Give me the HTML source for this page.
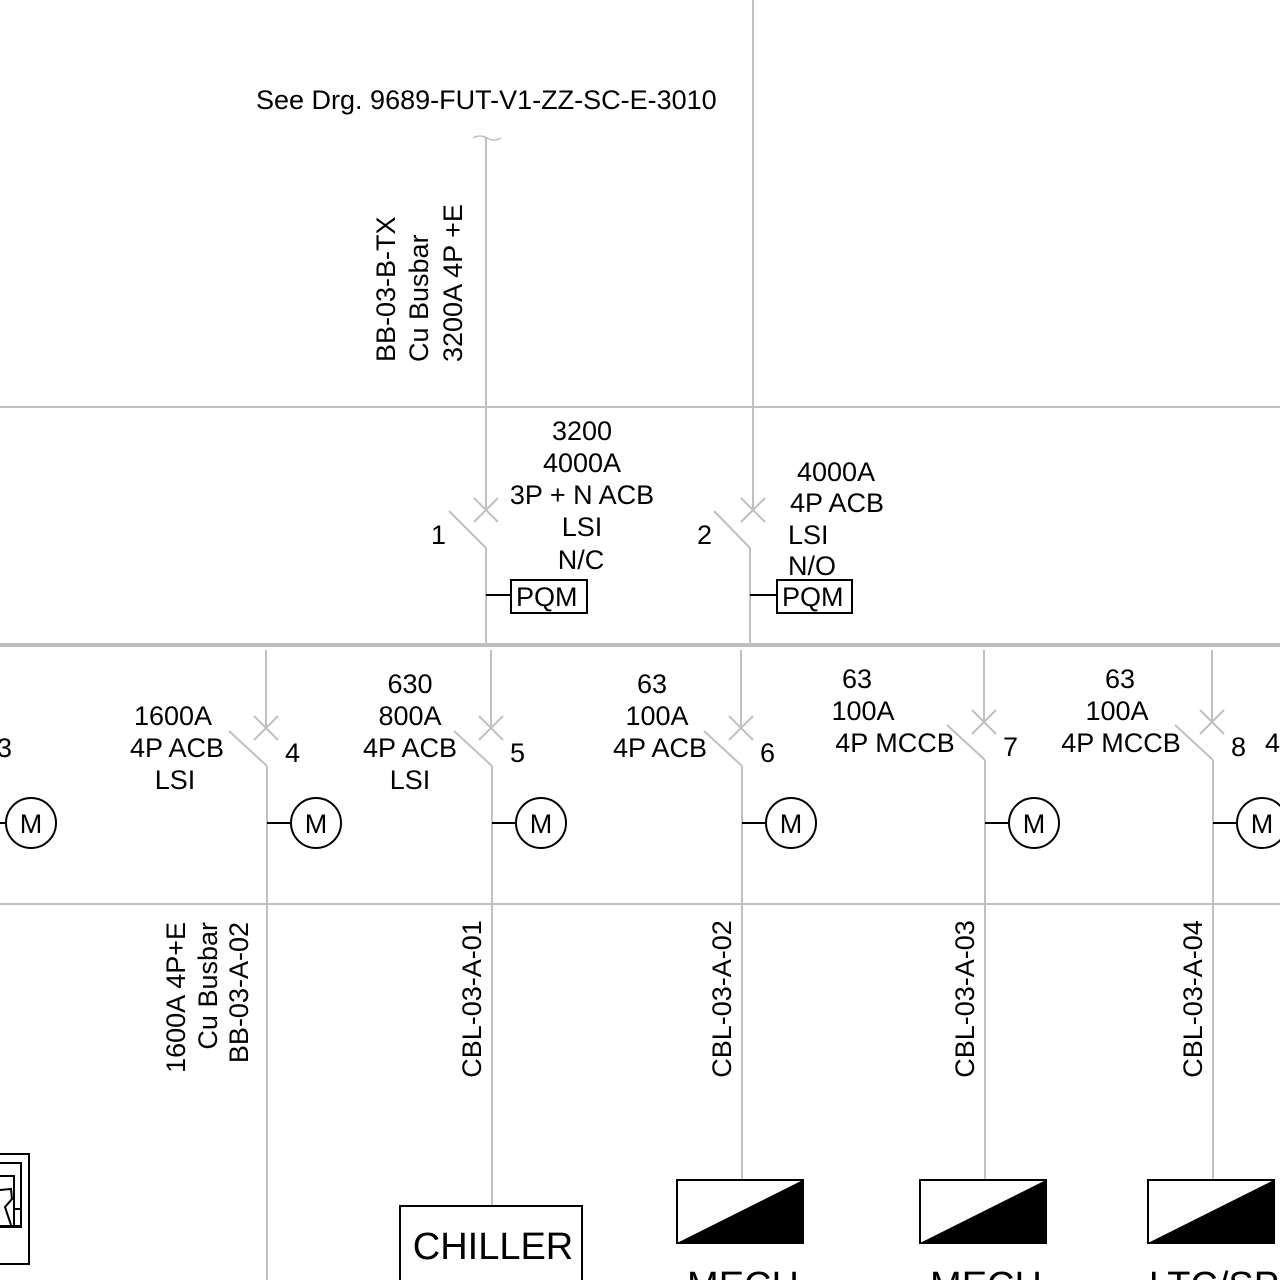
<!DOCTYPE html>
<html><head><meta charset="utf-8"><style>
html,body{margin:0;padding:0;background:#fff;}
svg{display:block;}
text{font-family:"Liberation Sans",sans-serif;font-size:27px;fill:#000;}
</style></head><body>
<svg id="sld" width="1280" height="1280" viewBox="0 0 1280 1280" xmlns="http://www.w3.org/2000/svg">
<g stroke="#c0c0c0" stroke-width="2" fill="none">
  <line x1="0" y1="407" x2="1280" y2="407"/>
  <line x1="0" y1="904" x2="1280" y2="904"/>
  <line x1="753" y1="0" x2="753" y2="407"/>
</g>
<line x1="0" y1="645" x2="1280" y2="645" stroke="#bdbdbd" stroke-width="4"/>
<text x="256" y="109">See Drg. 9689-FUT-V1-ZZ-SC-E-3010</text>
<path d="M473 138 Q480 134 487 138 T501 138" stroke="#c0c0c0" stroke-width="1.5" fill="none"/>
<g>
  <text transform="translate(395,362) rotate(-90)">BB-03-B-TX</text>
  <text transform="translate(428,362) rotate(-90)">Cu Busbar</text>
  <text transform="translate(462,362) rotate(-90)">3200A 4P +E</text>
</g>
<g stroke="#c0c0c0" stroke-width="2" fill="none">
  <line x1="486" y1="138" x2="486" y2="510"/>
  <line x1="474" y1="498" x2="498" y2="522"/><line x1="474" y1="522" x2="498" y2="498"/>
  <line x1="449" y1="511" x2="486" y2="548"/>
  <line x1="486" y1="548" x2="486" y2="645"/>
</g>
<g text-anchor="middle">
  <text x="582" y="440">3200</text><text x="582" y="472">4000A</text>
  <text x="582" y="504">3P + N ACB</text><text x="582" y="536">LSI</text><text x="581" y="569">N/C</text>
</g>
<text x="431" y="544">1</text>
<line x1="486" y1="595" x2="511" y2="595" stroke="#000" stroke-width="2"/>
<rect x="511" y="580" width="76" height="33" fill="none" stroke="#000" stroke-width="2"/>
<text x="516" y="606">PQM</text>
<g stroke="#c0c0c0" stroke-width="2" fill="none">
  <line x1="753" y1="407" x2="753" y2="510"/>
  <line x1="741" y1="498" x2="765" y2="522"/><line x1="741" y1="522" x2="765" y2="498"/>
  <line x1="714" y1="511" x2="750" y2="548"/>
  <line x1="750" y1="548" x2="750" y2="645"/>
</g>
<g>
  <text x="797" y="481">4000A</text><text x="790" y="512">4P ACB</text>
  <text x="788" y="544">LSI</text><text x="788" y="575">N/O</text>
</g>
<text x="697" y="544">2</text>
<line x1="750" y1="595" x2="777" y2="595" stroke="#000" stroke-width="2"/>
<rect x="777" y="580" width="75" height="33" fill="none" stroke="#000" stroke-width="2"/>
<text x="782" y="606">PQM</text>
<text x="-3" y="757">3</text>
<line x1="0" y1="823" x2="6" y2="823" stroke="#000" stroke-width="2"/>
<circle cx="31" cy="823" r="25" fill="none" stroke="#000" stroke-width="2"/>
<text x="31" y="833" text-anchor="middle">M</text>
<g fill="none" stroke="#000" stroke-width="2">
  <rect x="-2" y="1154" width="31" height="110"/>
  <rect x="-2" y="1163" width="23" height="64"/>
  <rect x="-2" y="1176" width="16" height="50"/>
  <rect x="14" y="1209" width="7" height="17"/>
  <path d="M0 1190 L11 1189 L12 1199 L5 1207 L11 1225"/>
</g>
<g text-anchor="end">
  <text transform="translate(185,922) rotate(-90)">1600A 4P+E</text>
  <text transform="translate(217,922) rotate(-90)">Cu Busbar</text>
  <text transform="translate(248,922) rotate(-90)">BB-03-A-02</text>
</g>
<g id="feeders"></g>
<script>
const feederIds = ["4","5","6","7","8"];
const feederX = [266, 491, 741, 984, 1212];
const feederRatings = [["1600A","4P ACB","LSI"],["630","800A","4P ACB","LSI"],["63","100A","4P ACB"],["63","100A","4P MCCB"],["63","100A","4P MCCB"]];
const feederCables = ["", "CBL-03-A-01", "CBL-03-A-02", "CBL-03-A-03", "CBL-03-A-04"];
const feederLoads = ["busbar", "CHILLER", "MECH", "MECH", "LTC/SP"];

const NS = "http://www.w3.org/2000/svg";
const g = document.getElementById("feeders");
function mk(tag, attrs, parent) {
  const e = document.createElementNS(NS, tag);
  for (const k in attrs) e.setAttribute(k, attrs[k]);
  (parent || g).appendChild(e);
  return e;
}
const labelLayout = [[173,177,175],[410,410,410,410],[652,657,660],[857,863,895],[1120,1117,1121]];
feederIds.forEach((id, i) => {
  const x = feederX[i];
  const mccb = feederRatings[i][2] && feederRatings[i][2].indexOf("MCCB") >= 0;
  const xy = mccb ? 722 : 728;
  const grp = mk("g", {stroke: "#c0c0c0", "stroke-width": 2, fill: "none"});
  
  
  mk("line", {x1: x, y1: 650, x2: x, y2: xy}, grp);
  mk("line", {x1: x - 12, y1: xy - 12, x2: x + 12, y2: xy + 12}, grp);
  mk("line", {x1: x - 12, y1: xy + 12, x2: x + 12, y2: xy - 12}, grp);
  mk("line", {x1: x - 37, y1: xy + 3, x2: x + 1, y2: xy + 38}, grp);
  const bottom = i === 0 ? 1280 : (feederLoads[i] === "CHILLER" ? 1206 : 1180);
  mk("line", {x1: x + 1, y1: xy + 38, x2: x + 1, y2: bottom}, grp);
  const num = mk("text", {x: x + 19, y: xy + 34});
  num.textContent = id;
  
  
  const rt = feederRatings[i];
  const startY = mccb ? 688 : (rt.length === 4 ? 693 : (i === 2 ? 693 : 725));
  rt.forEach((t, j) => {
    const tx = mk("text", {x: labelLayout[i][j] || labelLayout[i][0], y: startY + j * 32, "text-anchor": "middle"});
    tx.textContent = t;
    
    
  });
  mk("line", {x1: x + 1, y1: 823, x2: x + 25, y2: 823, stroke: "#000", "stroke-width": 2});
  const c = mk("circle", {cx: x + 50, cy: 823, r: 25, fill: "none", stroke: "#000", "stroke-width": 2});
  
  
  const m = mk("text", {x: x + 50, y: 833, "text-anchor": "middle"});
  m.textContent = "M";
  if (feederCables[i]) {
    const ct = mk("text", {transform: "translate(" + (x - 10) + ",999) rotate(-90)", "text-anchor": "middle"});
    ct.textContent = feederCables[i];
    
    
  }
  if (feederLoads[i] === "CHILLER") {
    const r = mk("rect", {x: x - 91, y: 1206, width: 182, height: 80, fill: "none", stroke: "#000", "stroke-width": 2});
    
    
    const t = mk("text", {x: x + 2, y: 1259, "text-anchor": "middle", style: "font-size:38px"});
    t.textContent = "CHILLER";
  } else if (i > 0) {
    const bx = x - 64;
    const r = mk("rect", {x: bx, y: 1180, width: 126, height: 63, fill: "#fff", stroke: "#000", "stroke-width": 2});
    
    
    mk("polygon", {points: bx + "," + 1243 + " " + (bx + 126) + "," + 1180 + " " + (bx + 126) + "," + 1243, fill: "#000"});
    const t = mk("text", {x: x + 2, y: 1298, "text-anchor": "middle", style: "font-size:38px"});
    t.textContent = feederLoads[i];
    
    
  }
});
const t4 = mk("text", {x: 1265, y: 752});
t4.textContent = "4";
</script>
</svg>
</body></html>
